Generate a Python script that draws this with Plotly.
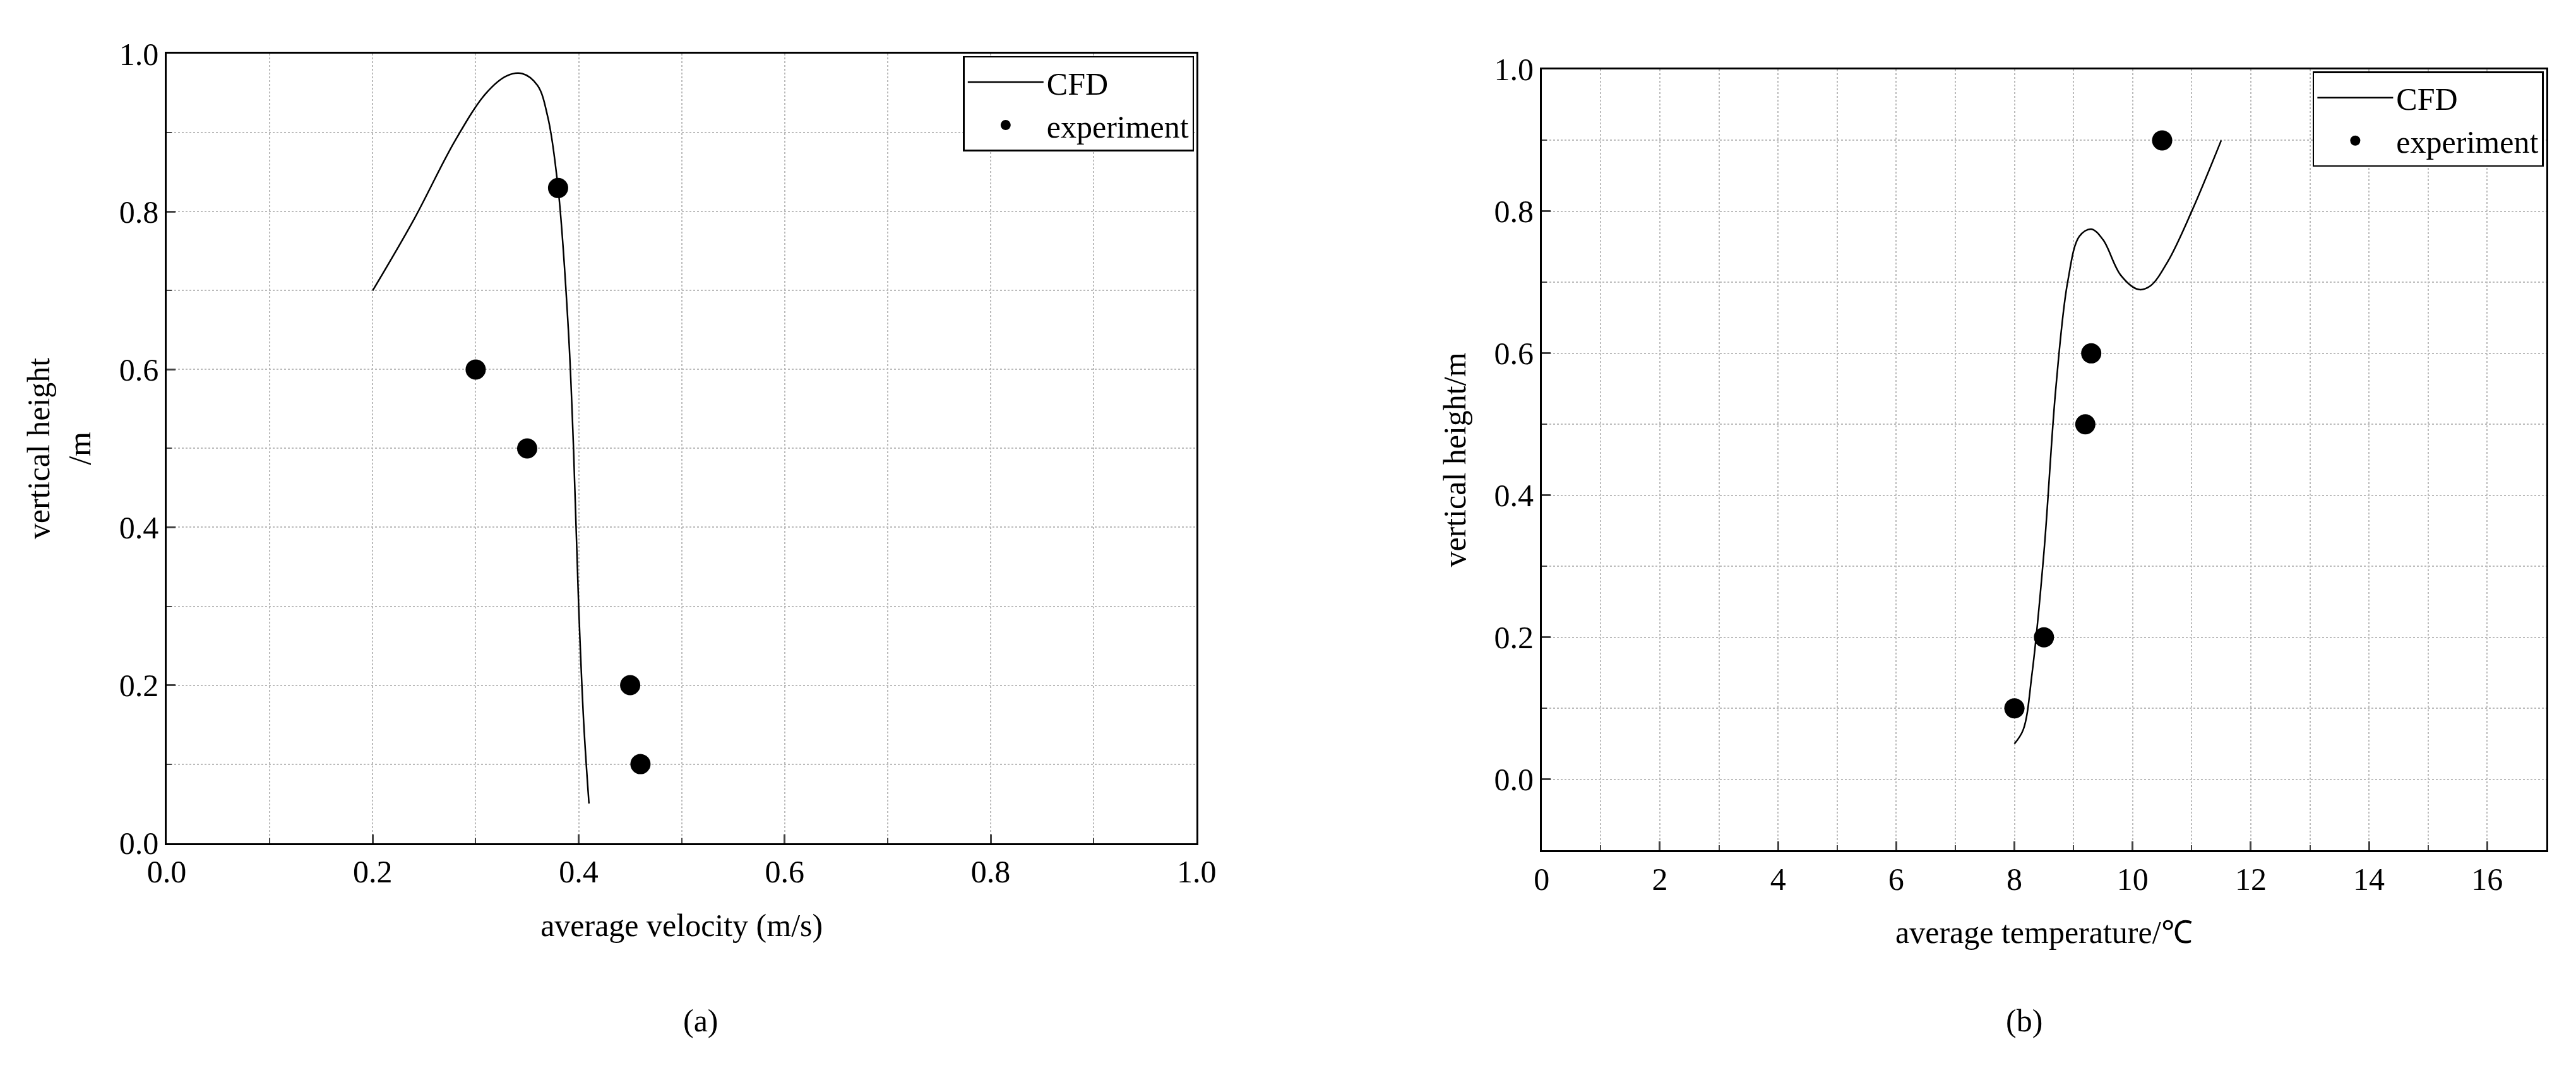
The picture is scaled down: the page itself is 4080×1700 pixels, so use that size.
import plotly.graph_objects as go

# Panel (a)
cfd_a_x = [0.20, 0.24, 0.28, 0.31, 0.33, 0.345, 0.36, 0.37, 0.38, 0.39, 0.395, 0.40, 0.405, 0.41]
cfd_a_y = [0.70, 0.79, 0.89, 0.95, 0.972, 0.975, 0.96, 0.92, 0.83, 0.65, 0.50, 0.30, 0.15, 0.05]
exp_a_x = [0.30, 0.35, 0.38, 0.45, 0.46]
exp_a_y = [0.60, 0.50, 0.83, 0.20, 0.10]
# Panel (b)
cfd_b_x = [8.0, 8.15, 8.3, 8.5, 8.7, 8.9, 9.1, 9.3, 9.5, 9.8, 10.1, 10.3, 10.6, 11.0, 11.5]
cfd_b_y = [0.05, 0.07, 0.15, 0.32, 0.55, 0.70, 0.765, 0.775, 0.76, 0.71, 0.69, 0.695, 0.73, 0.80, 0.90]
exp_b_x = [8.0, 8.5, 9.2, 9.3, 10.5]
exp_b_y = [0.10, 0.20, 0.50, 0.60, 0.90]

F = "Liberation Serif, Times New Roman, serif"
fig = go.Figure()
fig.add_trace(go.Scatter(x=cfd_a_x, y=cfd_a_y, mode="lines", name="CFD", line=dict(color="black", width=2.5, shape="spline"), xaxis="x", yaxis="y", legend="legend"))
fig.add_trace(go.Scatter(x=exp_a_x, y=exp_a_y, mode="markers", name="experiment", marker=dict(color="black", size=32), xaxis="x", yaxis="y", legend="legend"))
fig.add_trace(go.Scatter(x=cfd_b_x, y=cfd_b_y, mode="lines", name="CFD", line=dict(color="black", width=2.5, shape="spline"), xaxis="x2", yaxis="y2", legend="legend2"))
fig.add_trace(go.Scatter(x=exp_b_x, y=exp_b_y, mode="markers", name="experiment", marker=dict(color="black", size=32), xaxis="x2", yaxis="y2", legend="legend2"))

ax = dict(showline=True, linecolor="black", linewidth=2.5, mirror=True, ticks="inside", ticklen=14, tickwidth=2.5,
          gridcolor="#bbbbbb", griddash="dot", gridwidth=2, zeroline=False, tickfont=dict(size=50, family=F, color="black"),
          minor=dict(ticks="inside", ticklen=8, tickwidth=2, showgrid=True, gridcolor="#bbbbbb", griddash="dot", gridwidth=2))
fig.update_layout(
    width=4080, height=1700, margin=dict(l=0, r=0, t=0, b=0), plot_bgcolor="white", paper_bgcolor="white",
    font=dict(family=F, color="black", size=50),
    xaxis=dict(ax, domain=[0.056, 0.462], range=[0, 1], dtick=0.2, tickformat=".1f", minor=dict(ax["minor"], dtick=0.1),
               title=dict(text="average velocity (m/s)", font=dict(size=50), standoff=40), anchor="y"),
    yaxis=dict(ax, domain=[0.209, 0.970], range=[0, 1], dtick=0.2, tickformat=".1f", minor=dict(ax["minor"], dtick=0.1),
               title=dict(text="vertical height<br>/m", font=dict(size=50), standoff=30), anchor="x"),
    xaxis2=dict(ax, domain=[0.598, 0.994], range=[0, 17], dtick=2, minor=dict(ax["minor"], dtick=1),
                title=dict(text="average temperature/℃", font=dict(size=50), standoff=40), anchor="y2"),
    yaxis2=dict(ax, domain=[0.202, 0.955], range=[-0.1, 1.0], dtick=0.2, tick0=0, tickformat=".1f", minor=dict(ax["minor"], dtick=0.1),
                title=dict(text="vertical height/m", font=dict(size=50), standoff=30), anchor="x2"),
    legend=dict(x=0.461, y=0.968, xanchor="right", yanchor="top", bordercolor="black", borderwidth=2.5, bgcolor="white",
                font=dict(size=50), itemwidth=120),
    legend2=dict(x=0.993, y=0.953, xanchor="right", yanchor="top", bordercolor="black", borderwidth=2.5, bgcolor="white",
                 font=dict(size=50), itemwidth=120),
    showlegend=True,
    annotations=[
        dict(text="(a)", x=0.259, y=0.038, xref="paper", yref="paper", showarrow=False, yanchor="middle", font=dict(size=50)),
        dict(text="(b)", x=0.796, y=0.038, xref="paper", yref="paper", showarrow=False, yanchor="middle", font=dict(size=50)),
    ],
)
fig.write_html("out.html")
